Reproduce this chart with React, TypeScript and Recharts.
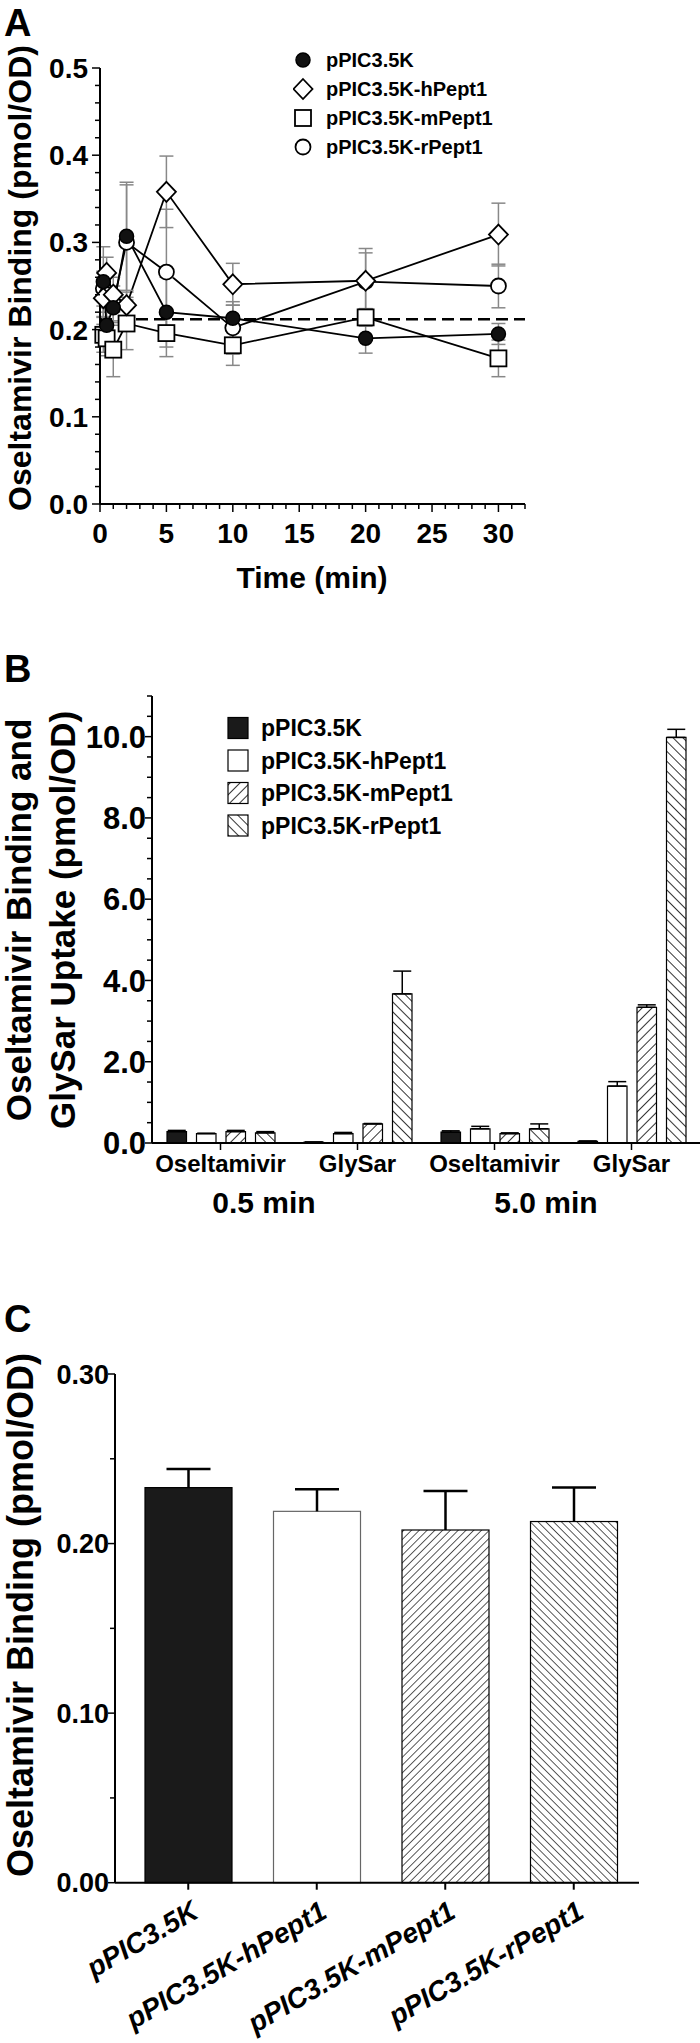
import React from 'react';
import {
  LineChart, Line, BarChart, Bar, XAxis, YAxis, ErrorBar, ReferenceLine, Legend, Label,
} from 'recharts';

const FONT = '"Liberation Sans", Arial, Helvetica, sans-serif';

// series names shared by all three panels
const seriesNames = ['pPIC3.5K', 'pPIC3.5K-hPept1', 'pPIC3.5K-mPept1', 'pPIC3.5K-rPept1'];

// ---- Panel A: binding time course ----
const timePoints = [0.25, 0.5, 1, 2, 5, 10, 20, 30];
const aEmpty = [0.255, 0.205, 0.225, 0.307, 0.22, 0.213, 0.19, 0.195];
const aEmptySem = [0.04, 0.02, 0.02, 0.062, 0.04, 0.015, 0.017, 0.012];
const aHuman = [0.236, 0.265, 0.24, 0.228, 0.358, 0.252, 0.256, 0.309];
const aHumanSem = [0.03, 0.018, 0.02, 0.015, 0.041, 0.024, 0.032, 0.036];
const aMouse = [0.194, 0.19, 0.177, 0.207, 0.196, 0.182, 0.214, 0.167];
const aMouseSem = [0.02, 0.02, 0.031, 0.03, 0.027, 0.023, 0.01, 0.021];
const aRat = [0.247, 0.24, 0.23, 0.3, 0.266, 0.202, 0.255, 0.25];
const aRatSem = [0.02, 0.02, 0.02, 0.066, 0.072, 0.03, 0.038, 0.025];
const baselineBinding = 0.212;
const aXTicks = [0, 1, 2, 3, 4, 5, 6, 7, 8, 9, 10, 11, 12, 13, 14, 15, 16, 17, 18, 19, 20, 21, 22, 23, 24, 25, 26, 27, 28, 29, 30, 31, 32];
const aYTicks = [0, 0.02, 0.04, 0.06, 0.08, 0.1, 0.12, 0.14, 0.16, 0.18, 0.2, 0.22, 0.24, 0.26, 0.28, 0.3, 0.32, 0.34, 0.36, 0.38, 0.4, 0.42, 0.44, 0.46, 0.48, 0.5];

// ---- Panel B: oseltamivir binding vs GlySar uptake ----
const bCategories = ['Oseltamivir', 'GlySar', 'Oseltamivir', 'GlySar'];
const bTimeLabels = ['0.5 min', '5.0 min'];
const bEmpty = [0.28, 0.02, 0.27, 0.04];
const bEmptySem = [0.03, 0.005, 0.03, 0.01];
const bHuman = [0.23, 0.23, 0.35, 1.4];
const bHumanSem = [0.01, 0.03, 0.06, 0.11];
const bMouse = [0.28, 0.47, 0.23, 3.34];
const bMouseSem = [0.03, 0.01, 0.02, 0.06];
const bRat = [0.25, 3.67, 0.35, 9.98];
const bRatSem = [0.03, 0.56, 0.12, 0.2];
const bYTicks = [0, 0.5, 1, 1.5, 2, 2.5, 3, 3.5, 4, 4.5, 5, 5.5, 6, 6.5, 7, 7.5, 8, 8.5, 9, 9.5, 10, 10.5, 11];

// ---- Panel C: oseltamivir binding per vector ----
const cBinding = [0.233, 0.219, 0.208, 0.213];
const cBindingSem = [0.011, 0.013, 0.023, 0.02];
const cYTicks = [0, 0.05, 0.1, 0.15, 0.2, 0.25, 0.3];

const aData = timePoints.map((t, i) => ({
  t, v0: aEmpty[i], e0: aEmptySem[i], v1: aHuman[i], e1: aHumanSem[i],
  v2: aMouse[i], e2: aMouseSem[i], v3: aRat[i], e3: aRatSem[i],
}));
const bData = bCategories.map((c, i) => ({
  id: i, name: c, v0: bEmpty[i], e0: bEmptySem[i], v1: bHuman[i], e1: bHumanSem[i],
  v2: bMouse[i], e2: bMouseSem[i], v3: bRat[i], e3: bRatSem[i],
}));
const cData = seriesNames.map((n, i) => ({ name: n, v: cBinding[i], e: cBindingSem[i] }));

const txt = { fontFamily: FONT, fontWeight: 700, fill: '#000' };

type Shape = 'filled' | 'diamond' | 'square' | 'open';
const aShapes: Shape[] = ['filled', 'diamond', 'square', 'open'];

function marker(shape: Shape, cx: number, cy: number, key?: string | number) {
  if (shape === 'filled') return <circle key={key} cx={cx} cy={cy} r={7} fill="#111" stroke="#000" strokeWidth={1.5} />;
  if (shape === 'diamond') return <path key={key} d={`M${cx},${cy - 10}L${cx + 9.5},${cy}L${cx},${cy + 10}L${cx - 9.5},${cy}Z`} fill="#fff" stroke="#000" strokeWidth={1.8} />;
  if (shape === 'square') return <rect key={key} x={cx - 8} y={cy - 8} width={16} height={16} fill="#fff" stroke="#000" strokeWidth={1.8} />;
  return <circle key={key} cx={cx} cy={cy} r={7.5} fill="#fff" stroke="#000" strokeWidth={1.8} />;
}

const dotFor = (shape: Shape) => (p: any) => marker(shape, p.cx, p.cy, `${shape}-${p.index}`);

// axis ticks with minor marks
const aXTick = (p: any) => {
  const v = p.payload.value;
  const major = v % 5 === 0;
  return (
    <g>
      <line x1={p.x} x2={p.x} y1={p.y} y2={p.y + (major ? 8 : 5)} stroke="#000" strokeWidth={1.5} />
      {major && <text x={p.x} y={p.y + 29} dy="0.36em" textAnchor="middle" fontSize={28} {...txt}>{v}</text>}
    </g>
  );
};

const aYTick = (p: any) => {
  const v = p.payload.value;
  const major = Math.abs(v * 10 - Math.round(v * 10)) < 1e-6;
  return (
    <g>
      <line x1={p.x} x2={p.x - (major ? 8 : 5)} y1={p.y} y2={p.y} stroke="#000" strokeWidth={1.5} />
      {major && <text x={p.x - 12} y={p.y} dy="0.36em" textAnchor="end" fontSize={28} {...txt}>{v.toFixed(1)}</text>}
    </g>
  );
};

const bYTick = (p: any) => {
  const v = p.payload.value;
  const major = v % 2 === 0;
  return (
    <g>
      <line x1={p.x} x2={p.x - (major ? 7 : 5)} y1={p.y} y2={p.y} stroke="#000" strokeWidth={1.5} />
      {major && <text x={p.x - 6} y={p.y} dy="0.36em" textAnchor="end" fontSize={31} {...txt}>{v.toFixed(1)}</text>}
    </g>
  );
};

const bXTick = (p: any) => (
  <g>
    <line x1={p.x} x2={p.x} y1={p.y} y2={p.y + 7} stroke="#000" strokeWidth={1.5} />
    <text x={p.x} y={p.y + 20} dy="0.36em" textAnchor="middle" fontSize={24} {...txt}>{bCategories[p.payload.value]}</text>
  </g>
);

const cYTick = (p: any) => {
  const v = p.payload.value;
  const major = Math.abs(v * 10 - Math.round(v * 10)) < 1e-6;
  return (
    <g>
      <line x1={p.x} x2={p.x - (major ? 7 : 5)} y1={p.y} y2={p.y} stroke="#000" strokeWidth={1.5} />
      {major && <text x={p.x - 6} y={p.y} dy="0.36em" textAnchor="end" fontSize={27} {...txt}>{v.toFixed(2)}</text>}
    </g>
  );
};

const cXTick = (p: any) => (
  <g transform={`translate(${p.x},${p.y})`}>
    <line x1={0} x2={0} y1={0} y2={7} stroke="#000" strokeWidth={2} />
    <text transform="translate(12,34) rotate(-30)" textAnchor="end" fontSize={28} fontStyle="italic" {...txt}>{p.payload.value}</text>
  </g>
);

const rotatedTitle = (lines: string[], cx: number, cy: number, size: number, gap: number) => () => (
  <g>
    {lines.map((l, i) => (
      <text key={l} transform={`translate(${cx + i * gap},${cy}) rotate(-90)`} textAnchor="middle" dy="0.36em" fontSize={size} {...txt}>{l}</text>
    ))}
  </g>
);

const aLegend = () => (
  <svg width={230} height={120}>
    {aShapes.map((s, i) => (
      <g key={s}>
        {marker(s, 10, 12 + i * 29)}
        <text x={33} y={12 + i * 29} dy="0.36em" fontSize={20} {...txt}>{seriesNames[i]}</text>
      </g>
    ))}
  </svg>
);

const bFills = ['#1a1a1a', '#ffffff', 'url(#hatchUp)', 'url(#hatchDown)'];
const cFills = ['#1a1a1a', '#ffffff', 'url(#hatchUpFine)', 'url(#hatchDownFine)'];

const bLegend = () => (
  <svg width={250} height={130}>
    {bFills.map((f, i) => (
      <g key={i}>
        <rect x={1} y={1.5 + i * 32.5} width={20} height={21} fill={f} stroke="#000" strokeWidth={1.2} />
        <text x={34} y={12 + i * 32.5} dy="0.36em" fontSize={23} {...txt}>{seriesNames[i]}</text>
      </g>
    ))}
  </svg>
);

// panel C bar: rect plus an upward-only SEM whisker, scaled from the bar's own pixel height
const cBarShape = (p: any) => {
  const perUnit = p.value ? p.height / p.value : 0;
  const top = p.y - p.payload.e * perUnit;
  const cx = p.x + p.width / 2;
  return (
    <g>
      <rect x={p.x} y={p.y} width={p.width} height={p.height} fill={cFills[p.index]}
        stroke={p.index === 1 ? '#666' : '#000'} strokeWidth={1.2} />
      <line x1={cx} x2={cx} y1={p.y} y2={top} stroke="#000" strokeWidth={2.5} />
      <line x1={cx - 22} x2={cx + 22} y1={top} y2={top} stroke="#000" strokeWidth={2.5} />
    </g>
  );
};

const letter = (ch: string, top: number) => (
  <div style={{ position: 'absolute', left: 4, top, fontFamily: FONT, fontWeight: 700, fontSize: 38, lineHeight: '38px' }}>{ch}</div>
);

export default function App() {
  const axisStroke = { stroke: '#000', strokeWidth: 2 };
  return (
    <div style={{ position: 'absolute', left: 0, top: 0, width: 700, height: 2043, background: '#fff', overflow: 'hidden' }}>
      <svg width={0} height={0} style={{ position: 'absolute' }}>
        <defs>
          <pattern id="hatchUp" patternUnits="userSpaceOnUse" width={7} height={7} patternTransform="rotate(45)">
            <rect width={7} height={7} fill="#fff" />
            <line x1={0} y1={0} x2={0} y2={7} stroke="#000" strokeWidth={1.6} />
          </pattern>
          <pattern id="hatchDown" patternUnits="userSpaceOnUse" width={7} height={7} patternTransform="rotate(-45)">
            <rect width={7} height={7} fill="#fff" />
            <line x1={0} y1={0} x2={0} y2={7} stroke="#000" strokeWidth={1.6} />
          </pattern>
          <pattern id="hatchUpFine" patternUnits="userSpaceOnUse" width={5.5} height={5.5} patternTransform="rotate(45)">
            <rect width={5.5} height={5.5} fill="#fff" />
            <line x1={0} y1={0} x2={0} y2={5.5} stroke="#000" strokeWidth={1.3} />
          </pattern>
          <pattern id="hatchDownFine" patternUnits="userSpaceOnUse" width={5.5} height={5.5} patternTransform="rotate(-45)">
            <rect width={5.5} height={5.5} fill="#fff" />
            <line x1={0} y1={0} x2={0} y2={5.5} stroke="#000" strokeWidth={1.3} />
          </pattern>
        </defs>
      </svg>

      {/* Panel A */}
      {letter('A', 4)}
      <div style={{ position: 'absolute', left: 0, top: 0 }}>
        <LineChart width={700} height={600} data={aData} margin={{ top: 68, right: 175, left: 0, bottom: 0 }}>
          <XAxis type="number" dataKey="t" domain={[0, 32]} ticks={aXTicks} interval={0} height={96}
            tickLine={false} tickSize={0} tickMargin={0} axisLine={axisStroke} tick={aXTick}>
            <Label content={() => <text x={312} y={577} dy="0.36em" textAnchor="middle" fontSize={30} {...txt}>Time (min)</text>} />
          </XAxis>
          <YAxis type="number" domain={[0, 0.5]} ticks={aYTicks} interval={0} width={100}
            tickLine={false} tickSize={0} tickMargin={0} axisLine={axisStroke} tick={aYTick}>
            <Label content={rotatedTitle(['Oseltamivir Binding (pmol/OD)'], 19, 278, 32, 0)} />
          </YAxis>
          <ReferenceLine y={baselineBinding} stroke="#000" strokeWidth={2.5} strokeDasharray="12 6" />
          {[3, 2, 1, 0].map((k) => (
            <Line key={k} type="linear" dataKey={`v${k}`} name={seriesNames[k]} stroke="#000" strokeWidth={1.8}
              dot={dotFor(aShapes[k])} activeDot={false} isAnimationActive={false}>
              <ErrorBar dataKey={`e${k}`} width={7} stroke="#888" strokeWidth={1.5} direction="y" />
            </Line>
          ))}
          <Legend layout="horizontal" verticalAlign="middle" align="center" content={aLegend}
            wrapperStyle={{ left: 293, top: 48, width: 230, height: 120 }} />
        </LineChart>
      </div>

      {/* Panel B */}
      {letter('B', 650)}
      <div style={{ position: 'absolute', left: 0, top: 600 }}>
        <BarChart width={700} height={680} data={bData} margin={{ top: 96, right: 0, left: 0, bottom: 0 }}
          barGap={10} barSize={19.5}>
          <XAxis type="category" dataKey="id" height={137} interval={0} tickLine={false} tickSize={0} tickMargin={0}
            axisLine={axisStroke} tick={bXTick}>
            <Label content={() => (
              <g>
                <text x={264} y={602} dy="0.36em" textAnchor="middle" fontSize={30} {...txt}>{bTimeLabels[0]}</text>
                <text x={546} y={602} dy="0.36em" textAnchor="middle" fontSize={30} {...txt}>{bTimeLabels[1]}</text>
              </g>
            )} />
          </XAxis>
          <YAxis type="number" domain={[0, 11]} ticks={bYTicks} interval={0} width={152}
            tickLine={false} tickSize={0} tickMargin={0} axisLine={axisStroke} tick={bYTick}>
            <Label content={rotatedTitle(['Oseltamivir Binding and', 'GlySar Uptake (pmol/OD)'], 18, 320, 35, 44)} />
          </YAxis>
          {[0, 1, 2, 3].map((k) => (
            <Bar key={k} dataKey={`v${k}`} name={seriesNames[k]} fill={bFills[k]} stroke="#000" strokeWidth={1.2}
              isAnimationActive={false}>
              <ErrorBar dataKey={(d: any) => [0, d[`e${k}`]]} width={9} stroke="#000" strokeWidth={1.5} direction="y" />
            </Bar>
          ))}
          <Legend layout="horizontal" verticalAlign="middle" align="center" content={bLegend}
            wrapperStyle={{ left: 227, top: 116, width: 250, height: 130 }} />
        </BarChart>
      </div>

      {/* Panel C */}
      {letter('C', 1300)}
      <div style={{ position: 'absolute', left: 0, top: 1280 }}>
        <BarChart width={700} height={763} data={cData} margin={{ top: 94, right: 61, left: 0, bottom: 0 }} barSize={87}>
          <XAxis type="category" dataKey="name" height={160.3} interval={0} padding={{ left: 9, right: 1 }}
            tickLine={false} tickSize={0} tickMargin={0} axisLine={axisStroke} tick={cXTick} />
          <YAxis type="number" domain={[0, 0.3]} ticks={cYTicks} interval={0} width={115}
            tickLine={false} tickSize={0} tickMargin={0} axisLine={axisStroke} tick={cYTick}>
            <Label content={rotatedTitle(['Oseltamivir Binding (pmol/OD)'], 20, 335, 36, 0)} />
          </YAxis>
          <Bar dataKey="v" isAnimationActive={false} shape={cBarShape} />
        </BarChart>
      </div>
    </div>
  );
}
